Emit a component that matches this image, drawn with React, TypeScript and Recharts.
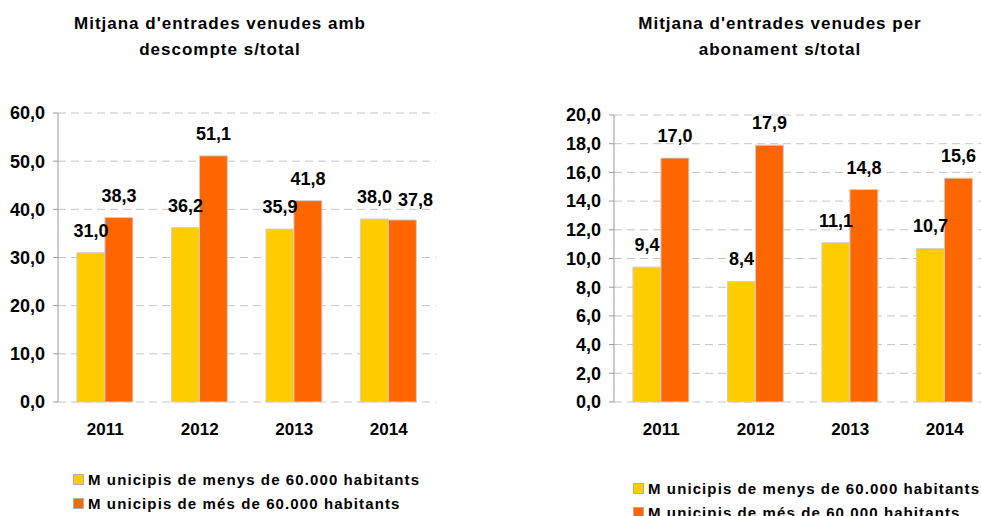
import { Bar, BarChart, CartesianGrid, LabelList, XAxis, YAxis } from 'recharts';

const years = ['2011', '2012', '2013', '2014'];
const seriesNames = [
  'M unicipis de menys de 60.000 habitants',
  'M unicipis de més de 60.000 habitants',
];
const colors = ['#FFCC00', '#FF6600'];

// mitjana amb descompte
const discountSmall = [31.0, 36.2, 35.9, 38.0];
const discountLarge = [38.3, 51.1, 41.8, 37.8];
const discountTicks = [0, 10, 20, 30, 40, 50, 60];

// mitjana per abonament
const passSmall = [9.4, 8.4, 11.1, 10.7];
const passLarge = [17.0, 17.9, 14.8, 15.6];
const passTicks = [0, 2, 4, 6, 8, 10, 12, 14, 16, 18, 20];

const edgeTicks = [0, 1, 2, 3, 4];

const FONT = '"Liberation Sans", Arial, sans-serif';
const LABEL_OFFSET = 16;
const fmt = (v: number) => v.toFixed(1).replace('.', ',');

const buildRows = (small: number[], large: number[]) =>
  years.map((year, i) => ({ year, small: small[i], large: large[i] }));

interface PanelProps {
  small: number[];
  large: number[];
  ticks: number[];
  left: number;
  top: number;
}

function Panel({ small, large, ticks, left, top }: PanelProps) {
  const rows = buildRows(small, large);
  const max = ticks[ticks.length - 1];
  const tickStyle = { fontSize: 18, fontWeight: 700, fill: '#000', fontFamily: FONT };
  const xTickStyle = { ...tickStyle, fontSize: 17 };

  // labels of the second bar get nudged right when they would hit the first one
  const largeLabel = (p: any) => {
    const { x, y, width, value, index } = p;
    const clash = Math.abs(small[index] - large[index]) < max * 0.03;
    return (
      <text
        x={x + width / 2 + (clash ? 13 : 0)}
        y={y - LABEL_OFFSET + (clash ? 2 : 0)}
        textAnchor="middle"
        style={tickStyle}
      >
        {fmt(value)}
      </text>
    );
  };

  return (
    <div style={{ position: 'absolute', left, top: 0 }}>
      <BarChart
        width={461}
        height={442}
        data={rows}
        margin={{ top, right: 25, left: 0, bottom: 0 }}
        barCategoryGap="20%"
        barGap={0}
      >
        <CartesianGrid
          xAxisId="cat"
          vertical={false}
          stroke="#c4c4c4"
          strokeDasharray="8 5"
        />
        <XAxis
          xAxisId="edge"
          type="number"
          domain={[0, 4]}
          ticks={edgeTicks}
          height={0}
          tick={false}
          tickSize={5}
          stroke="#9a9a9a"
        />
        <XAxis
          xAxisId="cat"
          dataKey="year"
          height={40}
          axisLine={false}
          tickLine={false}
          tickSize={0}
          tickMargin={21}
          tick={xTickStyle}
        />
        <YAxis
          width={58}
          domain={[0, max]}
          ticks={ticks}
          interval={0}
          tickFormatter={fmt}
          tickSize={5}
          tickMargin={8}
          stroke="#9a9a9a"
          tick={tickStyle}
        />
        <Bar
          xAxisId="cat"
          dataKey="small"
          fill={colors[0]}
          stroke="#cfcfcf"
          isAnimationActive={false}
        >
          <LabelList
            dataKey="small"
            position="top"
            offset={LABEL_OFFSET}
            formatter={(v: number) => fmt(v)}
            style={tickStyle}
          />
        </Bar>
        <Bar
          xAxisId="cat"
          dataKey="large"
          fill={colors[1]}
          stroke="#cfcfcf"
          isAnimationActive={false}
        >
          <LabelList dataKey="large" content={largeLabel} />
        </Bar>
      </BarChart>
    </div>
  );
}

function Title({ lines, cx }: { lines: string[]; cx: number }) {
  return (
    <div
      style={{
        position: 'absolute',
        left: cx - 200,
        top: 11,
        width: 400,
        textAlign: 'center',
        fontFamily: FONT,
        fontWeight: 700,
        fontSize: 17,
        letterSpacing: 1,
        lineHeight: '26px',
        color: '#000',
      }}
    >
      {lines.map((l) => (
        <div key={l}>{l}</div>
      ))}
    </div>
  );
}

function Legend({ left, top }: { left: number; top: number }) {
  return (
    <div style={{ position: 'absolute', left, top, fontFamily: FONT }}>
      {seriesNames.map((name, i) => (
        <div
          key={name}
          style={{ display: 'flex', alignItems: 'center', height: 24 }}
        >
          <span
            style={{
              width: 9,
              height: 9,
              background: colors[i],
              border: '1px solid #b0b0b0',
              marginRight: 4,
            }}
          />
          <span style={{ fontSize: 15, fontWeight: 700, letterSpacing: 1.1, color: '#000' }}>
            {name}
          </span>
        </div>
      ))}
    </div>
  );
}

export default function App() {
  return (
    <div
      style={{
        position: 'absolute',
        left: 0,
        top: 0,
        width: 981,
        height: 516,
        overflow: 'hidden',
        background: '#fff',
      }}
    >
      <Title lines={["Mitjana d'entrades venudes amb", 'descompte s/total']} cx={220} />
      <Title lines={["Mitjana d'entrades venudes per", 'abonament s/total']} cx={780} />
      <Panel small={discountSmall} large={discountLarge} ticks={discountTicks} left={0} top={113} />
      <Panel small={passSmall} large={passLarge} ticks={passTicks} left={556} top={115} />
      <Legend left={73} top={467} />
      <Legend left={633} top={476} />
    </div>
  );
}
